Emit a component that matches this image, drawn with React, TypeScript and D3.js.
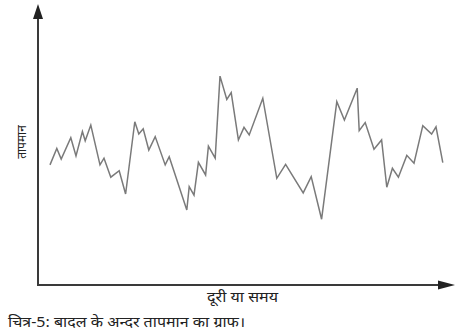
import React from "react";
import * as d3 from "d3";

const distance = [3.0, 4.7, 5.8, 8.2, 9.5, 11.1, 11.8, 13.2, 15.5, 16.5, 18.2, 20.3, 21.9, 24.2, 25.2, 26.3, 27.7, 29.3, 31.8, 32.8, 37.2, 37.8, 39.0, 40.1, 41.9, 42.6, 44.3, 45.5, 47.2, 48.3, 50.1, 51.5, 52.8, 56.2, 59.7, 61.9, 66.3, 68.3, 70.9, 74.7, 76.6, 79.8, 80.3, 81.8, 84.0, 85.9, 87.2, 88.6, 90.1, 92.2, 94.0, 96.2, 98.4, 99.5, 101.2];
const temperature = [42.9, 48.8, 45.0, 52.6, 46.1, 54.8, 51.5, 57.1, 42.9, 45.3, 38.5, 40.8, 32.5, 58.3, 53.9, 55.8, 48.2, 53.0, 42.9, 45.8, 26.8, 35.1, 32.1, 43.8, 39.3, 49.6, 45.3, 74.6, 66.3, 68.7, 51.8, 56.3, 53.6, 66.7, 38.1, 43.1, 32.9, 38.7, 23.5, 65.5, 58.9, 70.3, 55.1, 58.0, 48.5, 51.8, 34.9, 41.7, 38.5, 46.3, 43.5, 56.9, 53.9, 56.5, 43.7];

const xLabel = "दूरी या समय";
const yLabel = "तापमान";
const caption = "चित्र-5: बादल के अन्दर तापमान का ग्राफ।";

const W = 461;
const H = 335;

export default function App() {
  const x = d3.scaleLinear().domain([0, 100]).range([38, 438]);
  const y = d3.scaleLinear().domain([0, 100]).range([285, 5]);
  const pts: [number, number][] = distance.map((d, i) => [d, temperature[i]]);
  const line = d3
    .line<[number, number]>()
    .x((d) => x(d[0]))
    .y((d) => y(d[1]));

  const x0 = x(0);
  const y0 = y(0);
  const yTop = 4;
  const xEnd = 455;
  const font = "'Noto Sans', 'DejaVu Sans', sans-serif";

  return (
    <svg
      width={W}
      height={H}
      style={{ position: "absolute", left: 0, top: 0, background: "#fff" }}
    >
      <rect width={W} height={H} fill="#fff" />
      {/* y axis */}
      <line x1={x0} y1={y0 + 1} x2={x0} y2={yTop + 12} stroke="#3a3a3a" strokeWidth={2} />
      <path
        d={`M${x0},${yTop} L${x0 - 5},${yTop + 15} L${x0 + 5},${yTop + 15} Z`}
        fill="#222"
      />
      {/* x axis */}
      <line x1={x0 - 1} y1={y0} x2={xEnd - 14} y2={y0} stroke="#3a3a3a" strokeWidth={2} />
      <path
        d={`M${xEnd},${y0} L${xEnd - 17},${y0 - 4.5} L${xEnd - 17},${y0 + 4.5} Z`}
        fill="#222"
      />
      {/* data line */}
      <path
        d={line(pts) || ""}
        fill="none"
        stroke="#7a7a7a"
        strokeWidth={1.5}
        strokeLinejoin="miter"
      />
      {/* labels */}
      <text
        x={207}
        y={302}
        fontFamily={font}
        fontSize={15}
        textLength={71}
        lengthAdjust="spacingAndGlyphs"
        fill="#222"
      >
        {xLabel}
      </text>
      <text
        transform={`translate(26,142) rotate(-90)`}
        textAnchor="middle"
        fontFamily={font}
        fontSize={12}
        fill="#222"
      >
        {yLabel}
      </text>
      <text
        x={8}
        y={327}
        fontFamily={font}
        fontSize={14}
        textLength={237}
        lengthAdjust="spacingAndGlyphs"
        fill="#222"
      >
        {caption}
      </text>
    </svg>
  );
}
